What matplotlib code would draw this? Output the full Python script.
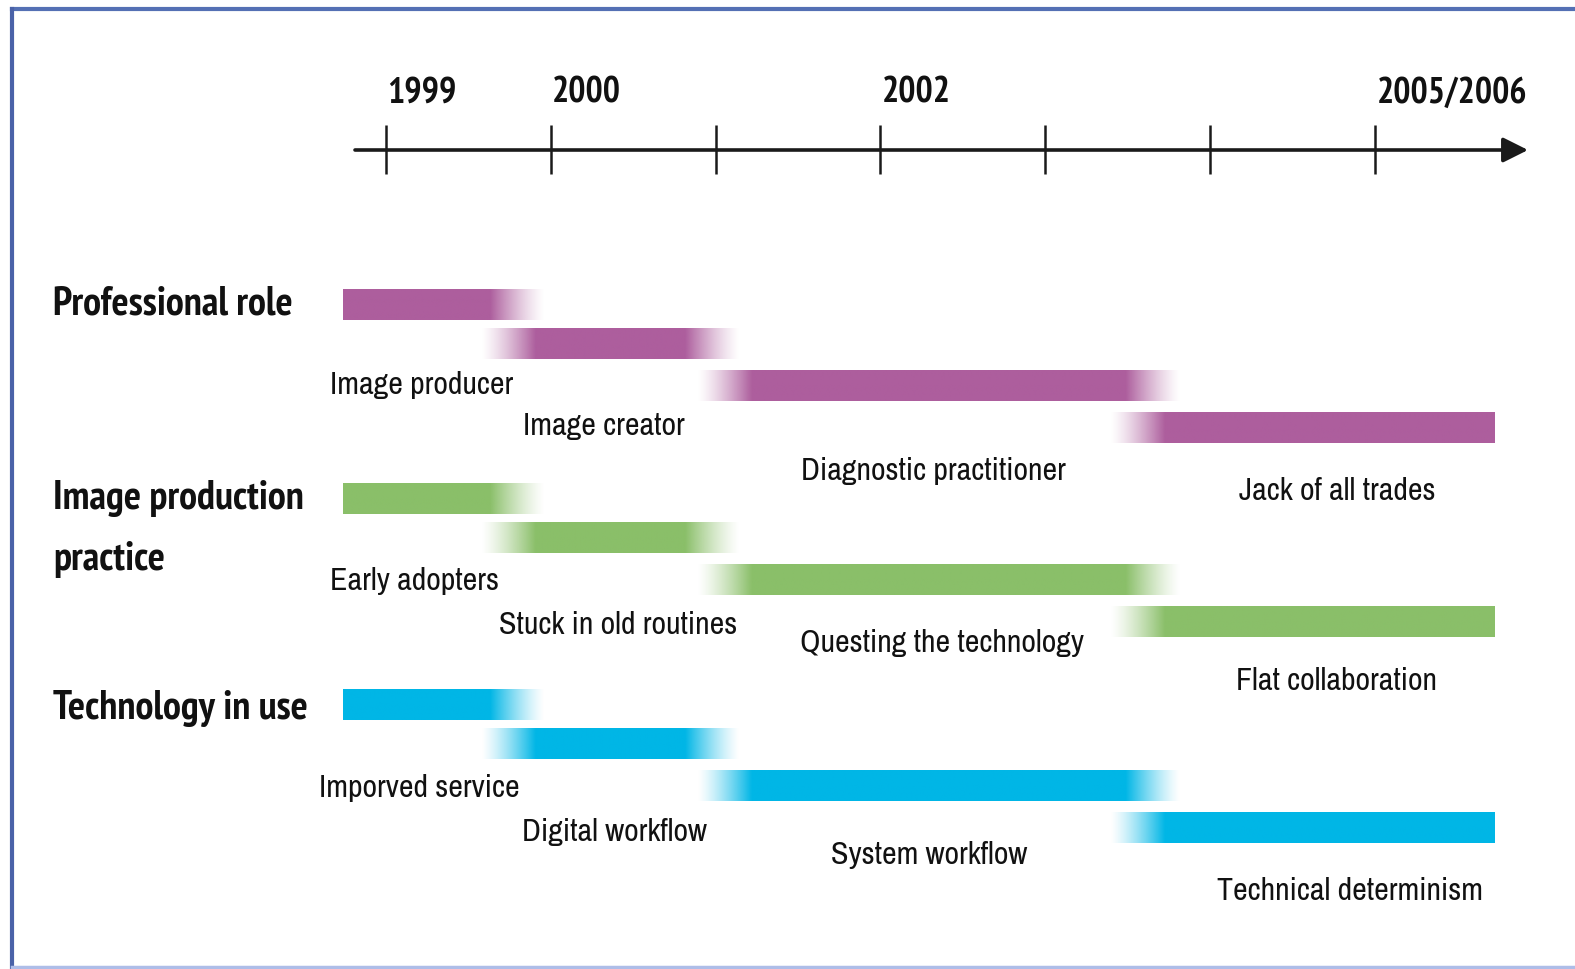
import numpy as np
import matplotlib
matplotlib.use("Agg")
import matplotlib.pyplot as plt
from matplotlib.lines import Line2D
from matplotlib.colors import to_rgb

# timeline
tick_years = [1999, 2000, 2001, 2002, 2003, 2004, 2005]
year_labels = {1999: "1999", 2000: "2000", 2002: "2002", 2005: "2005/2006"}

# groups
groups = ["Professional role", "Image production\npractice", "Technology in use"]
group_colors = ["#AD5E9D", "#8ABF69", "#00B6E6"]

# phase spans (years) - same for each group
starts = [1998.74, 1999.58, 2000.89, 2003.39]
ends = [1999.96, 2001.15, 2003.82, 2005.72]
fade_left = [False, True, True, True]
fade_right = [True, True, True, False]

phase_labels = [
    ["Image producer", "Image creator", "Diagnostic practitioner", "Jack of all trades"],
    ["Early adopters", "Stuck in old routines", "Questing the technology", "Flat collaboration"],
    ["Imporved service", "Digital workflow", "System workflow", "Technical determinism"],
]

# layout (pixels)
W, H = 1575, 970
px_per_year = 164.9
x0_px = 385.7
group_top = [306, 500, 706]
row_off = [0, 39, 81, 123]
bar_h = 31
label_x_px = [
    [422, 604, 933, 1337],
    [415, 618, 942, 1336],
    [419, 614, 929, 1350],
]
label_y_off = [
    [79, 120, 165, 185],
    [81, 125, 143, 181],
    [82, 126, 149, 185],
]
title_y = [304, 529, 709]


def px2yr(px):
    return tick_years[0] + (px - x0_px) / px_per_year


fig = plt.figure(figsize=(W / 100, H / 100), dpi=100)
ax = fig.add_axes([0, 0, 1, 1])
narrow = ["Archivo Narrow", "Roboto Condensed", "PT Sans Narrow", "DejaVu Sans"]
narrow_bold = ["PT Sans Narrow", "Roboto Condensed", "Archivo Narrow", "DejaVu Sans"]

# gradient bars
fade = 0.33
for g, col in enumerate(group_colors):
    rgb = to_rgb(col)
    for i in range(len(starts)):
        s, e = starts[i], ends[i]
        xs = np.linspace(s, e, 400)
        alpha = np.ones_like(xs)
        if fade_left[i]:
            alpha = np.minimum(alpha, np.clip((xs - s) / fade, 0, 1))
        if fade_right[i]:
            alpha = np.minimum(alpha, np.clip((e - xs) / fade, 0, 1))
        alpha = alpha ** 1.3
        img = np.zeros((1, len(xs), 4))
        img[0, :, :3] = rgb
        img[0, :, 3] = alpha
        yc = group_top[g] + row_off[i]
        ax.imshow(img, extent=[s, e, yc + bar_h / 2, yc - bar_h / 2],
                  aspect="auto", interpolation="bilinear", zorder=2)
        ax.text(px2yr(label_x_px[g][i]), group_top[g] + label_y_off[g][i],
                phase_labels[g][i], ha="center", va="center",
                fontsize=23, family=narrow, color="#111111", zorder=3)

# group titles
for g, name in enumerate(groups):
    ax.text(px2yr(53), title_y[g], name, ha="left", va="center", fontsize=29,
            fontweight="bold", family=narrow_bold, color="#111111", linespacing=1.8)

# timeline axis
line_y = 151
ax.annotate("", xy=(px2yr(1528), line_y), xytext=(px2yr(355), line_y),
            arrowprops=dict(arrowstyle="-|>", lw=2.6, color="#1a1a1a",
                            mutation_scale=38, shrinkA=0, shrinkB=0))
ax.vlines(tick_years, line_y - 25, line_y + 24, color="#1a1a1a", lw=1.8)
for yr, lab in year_labels.items():
    ax.text(yr + 0.01, 93, lab, ha="left", va="center", fontsize=26,
            fontweight="bold", family=narrow_bold, color="#111111")

ax.set_xlim(px2yr(0), px2yr(W))
ax.set_ylim(H, 0)
ax.axis("off")

# frame of the original figure
fig.add_artist(Line2D([12 / W, 1], [1 - 10 / H, 1 - 10 / H], color="#5470B4", lw=3,
                      transform=fig.transFigure))
fig.add_artist(Line2D([12 / W, 12 / W], [0, 1 - 10 / H], color="#4A62A8", lw=3,
                      transform=fig.transFigure))
fig.add_artist(Line2D([12 / W, 1], [2 / H, 2 / H], color="#AEBDE8", lw=2.5,
                      transform=fig.transFigure))

fig.savefig("out.png", dpi=100, facecolor="white")
